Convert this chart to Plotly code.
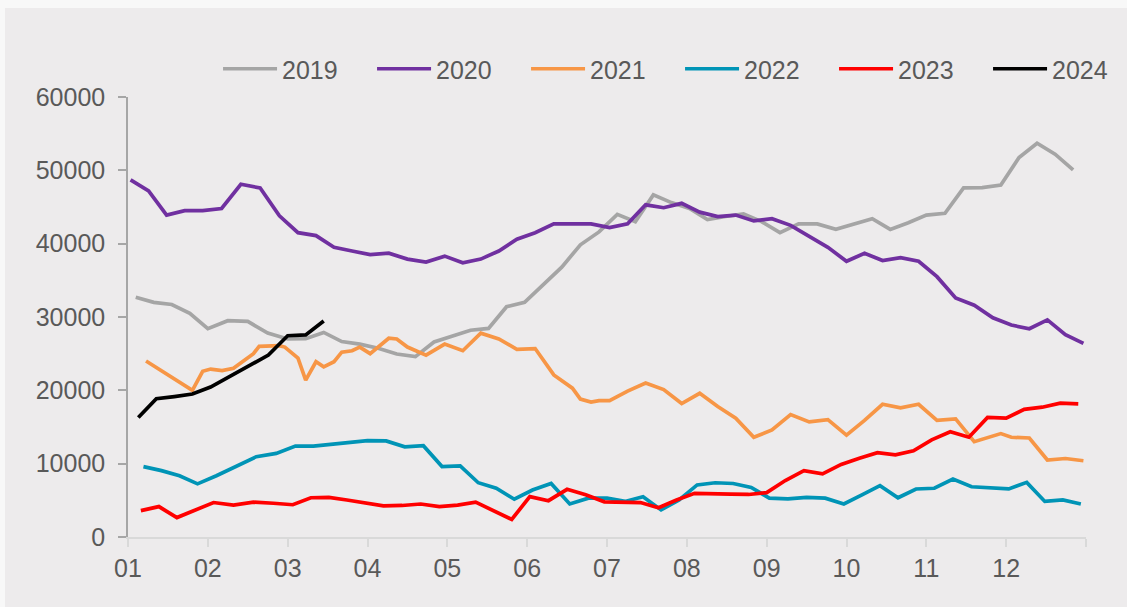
import calendar
import pandas as pd
import plotly.graph_objects as go

# ---- weekly series, one per year ----
MONTH_LABELS = ["01", "02", "03", "04", "05", "06", "07", "08", "09", "10", "11", "12"]

dates_2019 = pd.date_range("2019-01-04", periods=52, freq="7D")
values_2019 = [32700, 32000, 31700, 30500, 28400, 29500, 29400, 27800, 27000, 27050,
               27900, 26650, 26300, 25750, 24950, 24600, 26600, 27400, 28200, 28450,
               31400, 32000, 34350, 36800, 39850, 41600, 44000, 43000, 46650, 45600,
               44800, 43300, 43700, 44050, 43000, 41500, 42700, 42700, 41950, 42700,
               43400, 41950, 42850, 43900, 44150, 47600, 47650, 48000, 51750, 53700,
               52200, 50050]

dates_2020 = pd.date_range("2020-01-02", periods=53, freq="7D")
values_2020 = [48700, 47200, 43900, 44500, 44500, 44800, 48100, 47600, 43800, 41500,
               41100, 39500, 39000, 38500, 38700, 37900, 37500, 38300, 37400, 37900,
               39000, 40600, 41500, 42700, 42700, 42700, 42200, 42700, 45300, 44900,
               45500, 44300, 43700, 43900, 43100, 43400, 42500, 41000, 39500, 37600,
               38700, 37700, 38100, 37600, 35500, 32600, 31600, 29900, 28900, 28400,
               29600, 27600, 26400]

dates_2021 = pd.to_datetime([
    "2021-01-08", "2021-01-26", "2021-01-30", "2021-02-02", "2021-02-06", "2021-02-10",
    "2021-02-17", "2021-02-19", "2021-02-26", "2021-02-28", "2021-03-05", "2021-03-08",
    "2021-03-12", "2021-03-15", "2021-03-19", "2021-03-22", "2021-03-26", "2021-03-29",
    "2021-04-02", "2021-04-09", "2021-04-12", "2021-04-16", "2021-04-23", "2021-04-30",
    "2021-05-07", "2021-05-14", "2021-05-21", "2021-05-28", "2021-06-04", "2021-06-11",
    "2021-06-18", "2021-06-21", "2021-06-25", "2021-06-28", "2021-07-02", "2021-07-09",
    "2021-07-16", "2021-07-23", "2021-07-30", "2021-08-06", "2021-08-13", "2021-08-20",
    "2021-08-27", "2021-09-03", "2021-09-10", "2021-09-17", "2021-09-24", "2021-10-01",
    "2021-10-08", "2021-10-15", "2021-10-22", "2021-10-29", "2021-11-05", "2021-11-12",
    "2021-11-19", "2021-11-29", "2021-12-03", "2021-12-10", "2021-12-17", "2021-12-24",
    "2021-12-31"])
values_2021 = [24000, 20000, 22600, 22900, 22700, 23000,
               25000, 26000, 26100, 25900, 24400, 21400,
               23900, 23200, 23900, 25200, 25400, 25900,
               25000, 27100, 27000, 25900, 24800, 26300,
               25400, 27800, 27000, 25600, 25700, 22100,
               20300, 18800, 18400, 18600, 18600, 19900,
               21000, 20100, 18200, 19600, 17800, 16200,
               13600, 14600, 16700, 15700, 16000, 13900,
               15900, 18100, 17600, 18100, 15900, 16100,
               13000, 14100, 13600, 13500, 10500, 10700,
               10400]

dates_2022 = pd.date_range("2022-01-07", periods=52, freq="7D")
values_2022 = [9600, 9050, 8350, 7250, 8350, 9600, 10950, 11400, 12400, 12400,
               12650, 12800, 13150, 13100, 12300, 12450, 9600, 9700, 7400, 6650,
               5150, 6400, 7300, 4500, 5300, 5300, 4850, 5500, 3700, 5050,
               7100, 7400, 7300, 6750, 5300, 5200, 5400, 5300, 4500, 5750,
               7000, 5350, 6550, 6650, 7900, 6850, 6650, 6550, 7450, 4850,
               5050, 4500]

dates_2023 = pd.date_range("2023-01-06", periods=52, freq="7D")
values_2023 = [3600, 4150, 2650, 3700, 4700, 4350, 4750, 4600, 4400, 5350,
               5400, 5050, 4600, 4250, 4300, 4500, 4150, 4350, 4750, 3550,
               2400, 5500, 4950, 6500, 5750, 4800, 4700, 4700, 4000, 5050,
               5950, 5950, 5850, 5800, 6050, 7700, 9050, 8600, 9900, 10750,
               11500, 11200, 11750, 13250, 14350, 13600, 16300, 16200, 17400, 17700,
               18250, 18150]

dates_2024 = pd.date_range("2024-01-05", periods=11, freq="7D")
values_2024 = [16300, 18850, 19150, 19500, 20450, 21900, 23450, 24800, 27450, 27550, 29450]

SERIES = [
    ("2019", dates_2019, values_2019, "#A5A5A5"),
    ("2020", dates_2020, values_2020, "#7030A0"),
    ("2021", dates_2021, values_2021, "#F79646"),
    ("2022", dates_2022, values_2022, "#0094B6"),
    ("2023", dates_2023, values_2023, "#FF0000"),
    ("2024", dates_2024, values_2024, "#000000"),
]


def month_pos(ts):
    """Position on a 12-slot axis where every month gets equal width."""
    days = calendar.monthrange(ts.year, ts.month)[1]
    return ts.month - 1 + (ts.day - 1) / days


fig = go.Figure()
for name, dates, vals, color in SERIES:
    fig.add_trace(go.Scatter(
        x=[month_pos(d) for d in dates], y=vals, name=name, mode="lines",
        line=dict(color=color, width=3.7),
    ))

FONT = "Liberation Sans"
TEXT = "#595959"
BG = "#EDEBEC"

fig.update_layout(
    width=1127, height=607,
    margin=dict(l=128, r=41, t=97, b=70, autoexpand=False),
    paper_bgcolor="#F8F8F8",
    plot_bgcolor=BG,
    font=dict(family=FONT, size=25, color=TEXT),
    showlegend=True,
    legend=dict(
        orientation="h", x=0.094, xanchor="left", y=1.0636, yanchor="middle",
        bgcolor="rgba(0,0,0,0)", font=dict(size=25, color=TEXT),
        itemwidth=54, entrywidth=85, tracegroupgap=0,
    ),
    shapes=[dict(type="rect", xref="paper", yref="paper",
                 x0=-0.1284, x1=1.05, y0=-0.17, y1=1.2023,
                 fillcolor=BG, line=dict(width=0), layer="below")],
    xaxis=dict(
        range=[0, 12], tickmode="array",
        tickvals=list(range(13)), ticktext=MONTH_LABELS + [""],
        showgrid=False, zeroline=False,
        showline=True, linecolor="#D9D9D9", linewidth=2,
        ticks="outside", ticklen=8, tickcolor="#D9D9D9", tickwidth=2,
        tickfont=dict(size=25, color=TEXT),
    ),
    yaxis=dict(
        range=[0, 60000], tickmode="linear", tick0=0, dtick=10000, tickformat="d",
        showgrid=False, zeroline=False,
        showline=True, linecolor="#A6A6A6", linewidth=1.5,
        ticks="outside", ticklen=8, tickcolor="#A6A6A6", tickwidth=1.5,
        tickfont=dict(size=25, color=TEXT), ticklabelstandoff=8,
    ),
)

fig.write_html("out.html")
